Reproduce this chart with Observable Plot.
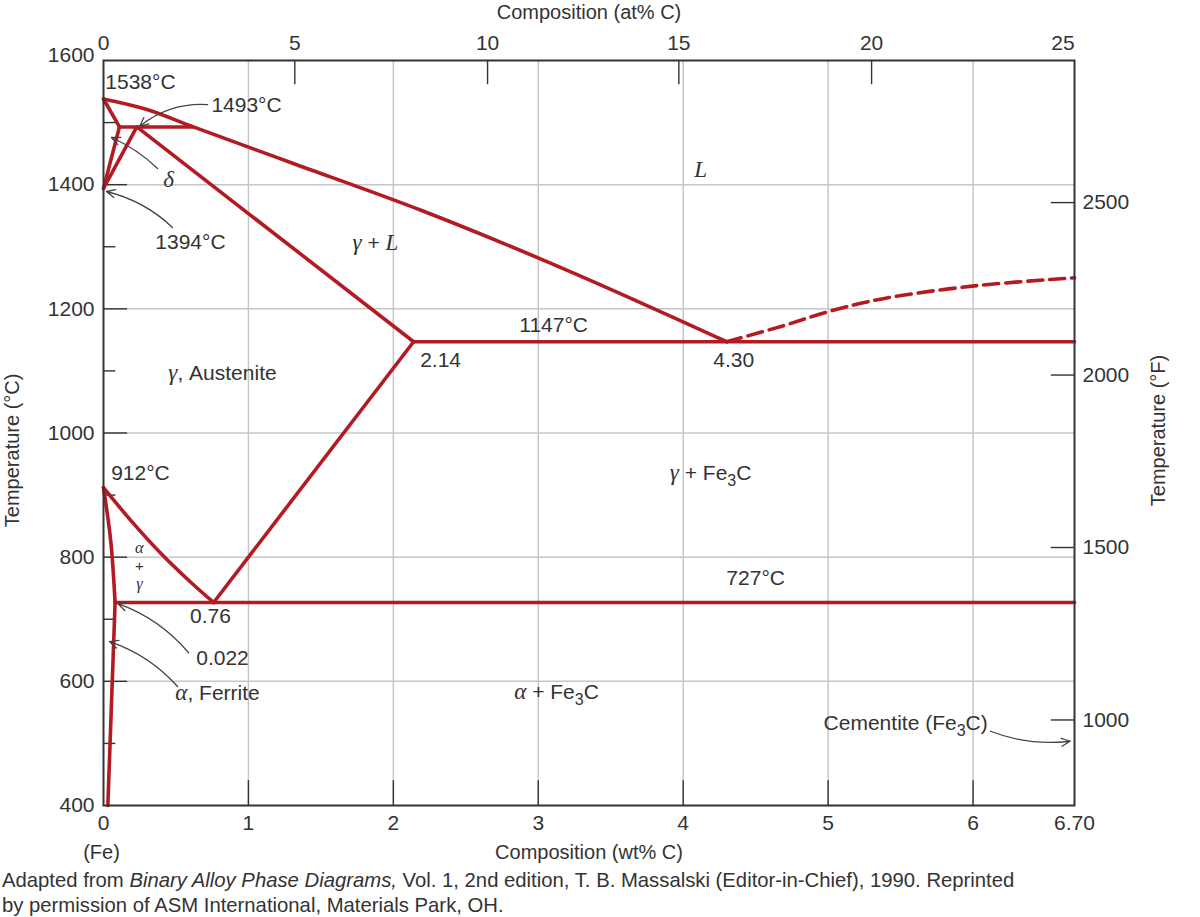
<!DOCTYPE html>
<html><head><meta charset="utf-8">
<script src="https://cdn.jsdelivr.net/npm/d3@7"></script>
<script src="https://cdn.jsdelivr.net/npm/@observablehq/plot@0.6"></script>
<style>
body{margin:0;background:#fff;font-family:"Liberation Sans",Arial,sans-serif;color:#333}
#cap{font-size:20.3px;line-height:25px;padding-left:2px;white-space:nowrap}
</style></head><body>
<div id="chart"></div>
<div id="cap">Adapted from <i>Binary Alloy Phase Diagrams,</i> Vol. 1, 2nd edition, T. B. Massalski (Editor-in-Chief), 1990. Reprinted<br>by permission of ASM International, Materials Park, OH.</div>
<script>
// ---- axis values ----
const wtTicks = [0, 1, 2, 3, 4, 5, 6, 6.70];
const wtTickLabels = ["0", "1", "2", "3", "4", "5", "6", "6.70"];
const atTicks = [0, 5, 10, 15, 20, 25];
const atTickWt = [0, 1.32, 2.65, 3.97, 5.30, 6.62];   // where each at% tick sits on the wt% scale
const tempTicks = [400, 600, 800, 1000, 1200, 1400, 1600];
const tempMinor = [500, 700, 900, 1100, 1300, 1500];
const fTicks = [1000, 1500, 2000, 2500];

// ---- phase boundaries: [wt% C, °C] ----
const liquidus = [[0, 1538], [0.3, 1521], [0.62, 1493], [1.3, 1435], [2.2, 1358], [3.2, 1262], [4.30, 1147]];
const deltaSolidus = [[0, 1538], [0.11, 1493]];
const deltaSolvus = [[0.11, 1493], [0, 1394]];
const gammaDelta = [[0, 1394], [0.23, 1493]];
const peritectic = [[0.11, 1493], [0.62, 1493]];
const gammaSolidus = [[0.23, 1493], [2.14, 1147]];
const eutectic = [[2.14, 1147], [6.70, 1147]];
const acm = [[0.76, 727], [2.14, 1147]];
const a3 = [[0, 912], [0.2, 856], [0.4, 805], [0.6, 760], [0.76, 727]];
const alphaUpper = [[0, 912], [0.05, 826], [0.08, 727]];
const alphaLower = [[0.08, 727], [0.03, 400]];
const eutectoid = [[0.08, 727], [6.70, 727]];
const cementiteLiquidus = [[4.30, 1147], [4.68, 1172], [5.01, 1196], [5.37, 1216], [6.01, 1237], [6.70, 1250]];

// ---- labels: text, wt%, °C ----
const labelText = ["1538°C", "1493°C", "<i>L</i>", "1394°C", "<i>γ</i> + <i>L</i>", "1147°C", "2.14", "4.30",
  "<i>γ</i>, Austenite", "912°C", "<i>γ</i> + Fe<sub>3</sub>C", "727°C", "0.76", "0.022",
  "<i>α</i>, Ferrite", "<i>α</i> + Fe<sub>3</sub>C", "Cementite (Fe<sub>3</sub>C)", "<i>δ</i>"];
const labelWt = [0.255, 0.987, 4.12, 0.60, 1.877, 3.106, 2.326, 4.348, 0.821, 0.255, 4.189, 4.50, 0.738, 0.821, 0.787, 3.126, 5.535, 0.449];
const labelC = [1564.6, 1527.5, 1422.8, 1306.8, 1305.2, 1173.1, 1116.7, 1116.7, 1095.8, 934.7, 934.7, 765.6, 704.4, 636.7, 580.3, 581.9, 532.0, 1406.7];
// stacked "α + γ" label inside the two-phase sliver
const stackText = ["<i>α</i>", "+", "<i>γ</i>"];
const stackWt = [0.248, 0.248, 0.248];
const stackC = [815, 786, 757];

// ---- leader arrows: from (wt, °C) to (wt, °C) ----
const arrowFromWt = [0.718, 0.373, 0.476, 0.587, 0.511, 6.12];
const arrowFromC = [1529, 1426, 1331, 646, 591.6, 519.6];
const arrowToWt = [0.25, 0.055, 0.02, 0.10, 0.041, 6.67];
const arrowToC = [1494, 1476, 1389, 725, 664.1, 503.5];
const arrowBend = [-22, -10, -15, -15, -15, -14];

const RED = "#b31b23";
const INK = "#333";
const GRID = "#c6c6c6";

const toRows = (name, pts) => pts.map(([w, t]) => ({name, w, t}));
const solid = [
  ...toRows("liquidus", liquidus), ...toRows("deltaSolidus", deltaSolidus), ...toRows("deltaSolvus", deltaSolvus),
  ...toRows("gammaDelta", gammaDelta), ...toRows("peritectic", peritectic), ...toRows("gammaSolidus", gammaSolidus),
  ...toRows("eutectic", eutectic), ...toRows("acm", acm), ...toRows("a3", a3), ...toRows("alphaUpper", alphaUpper),
  ...toRows("alphaLower", alphaLower), ...toRows("eutectoid", eutectoid)
];
const dashed = toRows("cementiteLiquidus", cementiteLiquidus);
const labels = labelText.map((text, i) => ({text, w: labelWt[i], t: labelC[i]}));
const stack = stackText.map((text, i) => ({text, w: stackWt[i], t: stackC[i]}));
const arrows = arrowFromWt.map((_, i) => ({x1: arrowFromWt[i], y1: arrowFromC[i], x2: arrowToWt[i], y2: arrowToC[i], bend: arrowBend[i]}));
const fToC = f => (f - 32) * 5 / 9;

const FS = 21;
const plot = Plot.plot({
  width: 1200, height: 868,
  marginLeft: 103, marginRight: 126, marginTop: 60, marginBottom: 63,
  x: {domain: [0, 6.70], axis: null},
  y: {domain: [400, 1600], axis: null},
  style: {fontFamily: "'Liberation Sans', Arial, sans-serif", color: INK, background: "#fff"},
  marks: [
    // grid
    Plot.ruleX(wtTicks.slice(1, 7), {y1: 400, y2: 1600, stroke: GRID, strokeWidth: 1.5}),
    Plot.ruleY(tempTicks.slice(1, 6), {x1: 0, x2: 6.70, stroke: GRID, strokeWidth: 1.5}),
    // ticks
    Plot.ruleY(tempTicks.slice(1, 6), {x1: 0, x2: 0.166, stroke: INK, strokeWidth: 1.4}),
    Plot.ruleY(tempMinor, {x1: 0, x2: 0.085, stroke: INK, strokeWidth: 1.4}),
    Plot.ruleX(wtTicks.slice(1, 7), {y1: 400, y2: 440, stroke: INK, strokeWidth: 1.4}),
    Plot.ruleX(atTickWt.slice(1, 5), {y1: 1600, y2: 1561, stroke: INK, strokeWidth: 1.4}),
    Plot.ruleY(fTicks, {y: fToC, x1: 6.54, x2: 6.70, stroke: INK, strokeWidth: 1.4}),
    // phase boundaries
    Plot.line(solid, {x: "w", y: "t", z: "name", stroke: RED, strokeWidth: 3.6, curve: "catmull-rom", strokeLinejoin: "miter"}),
    Plot.line(dashed, {x: "w", y: "t", stroke: RED, strokeWidth: 3.6, curve: "catmull-rom", strokeDasharray: "15,7"}),
    // frame
    Plot.frame({stroke: INK, strokeWidth: 2}),
    // leader arrows
    ...arrows.map(a => Plot.arrow([a], {x1: "x1", y1: "y1", x2: "x2", y2: "y2", bend: a.bend, stroke: "#444", strokeWidth: 1.3, headLength: 11, headAngle: 50})),
    // tick labels
    Plot.text(wtTicks, {x: d => d, y: 400, text: (d, i) => wtTickLabels[i], dy: 18, fontSize: FS, fill: INK}),
    Plot.text(atTicks, {x: (d, i) => atTickWt[i], y: 1600, text: d => String(d), dy: -17, fontSize: FS, fill: INK}),
    Plot.text(tempTicks.slice(0, 6), {x: 0, y: d => d, text: d => String(d), dx: -9, textAnchor: "end", fontSize: FS, fill: INK}),
    Plot.text([1600], {x: 0, y: d => d, text: d => String(d), dx: -9, dy: -5, textAnchor: "end", fontSize: FS, fill: INK}),
    Plot.text(fTicks, {x: 6.70, y: fToC, text: d => String(d), dx: 8, textAnchor: "start", fontSize: FS, fill: INK}),
    // axis titles
    Plot.text(["(Fe)"], {x: 0, y: 400, text: d => d, dx: -2, dy: 47, fontSize: 20, fill: INK}),
    Plot.text(["Composition (wt% C)"], {frameAnchor: "bottom", lineAnchor: "middle", text: d => d, dy: 47, fontSize: 20, fill: INK}),
    Plot.text(["Composition (at% C)"], {frameAnchor: "top", lineAnchor: "middle", text: d => d, dy: -48, fontSize: 20, fill: INK}),
    Plot.text(["Temperature (°C)"], {x: -0.628, y: 972, text: d => d, rotate: -90, fontSize: 20, fill: INK}),
    Plot.text(["Temperature (°F)"], {x: 7.281, y: 1004, text: d => d, rotate: -90, fontSize: 20, fill: INK}),
    // region / point labels
    Plot.text(labels, {x: "w", y: "t", text: "text", fontSize: FS, fill: INK}),
    Plot.text(stack, {x: "w", y: "t", text: "text", fontSize: 15, fill: INK})
  ]
});

// turn the small markup in labels into tspans (italic greek, subscripts)
plot.querySelectorAll("text").forEach(el => {
  const s = el.textContent;
  if (!s.includes("<")) return;
  let h = s.replace(/<i>(.*?)<\/i>/g, '<tspan font-family="Liberation Serif, DejaVu Serif, serif" font-style="italic" font-size="1.1em">$1</tspan>');
  h = h.replace(/<sub>(.*?)<\/sub>(.*)$/, '<tspan dy="6" font-size="16">$1</tspan><tspan dy="-6">$2</tspan>');
  el.innerHTML = h;
});

document.getElementById("chart").appendChild(plot);
</script>
</body></html>
